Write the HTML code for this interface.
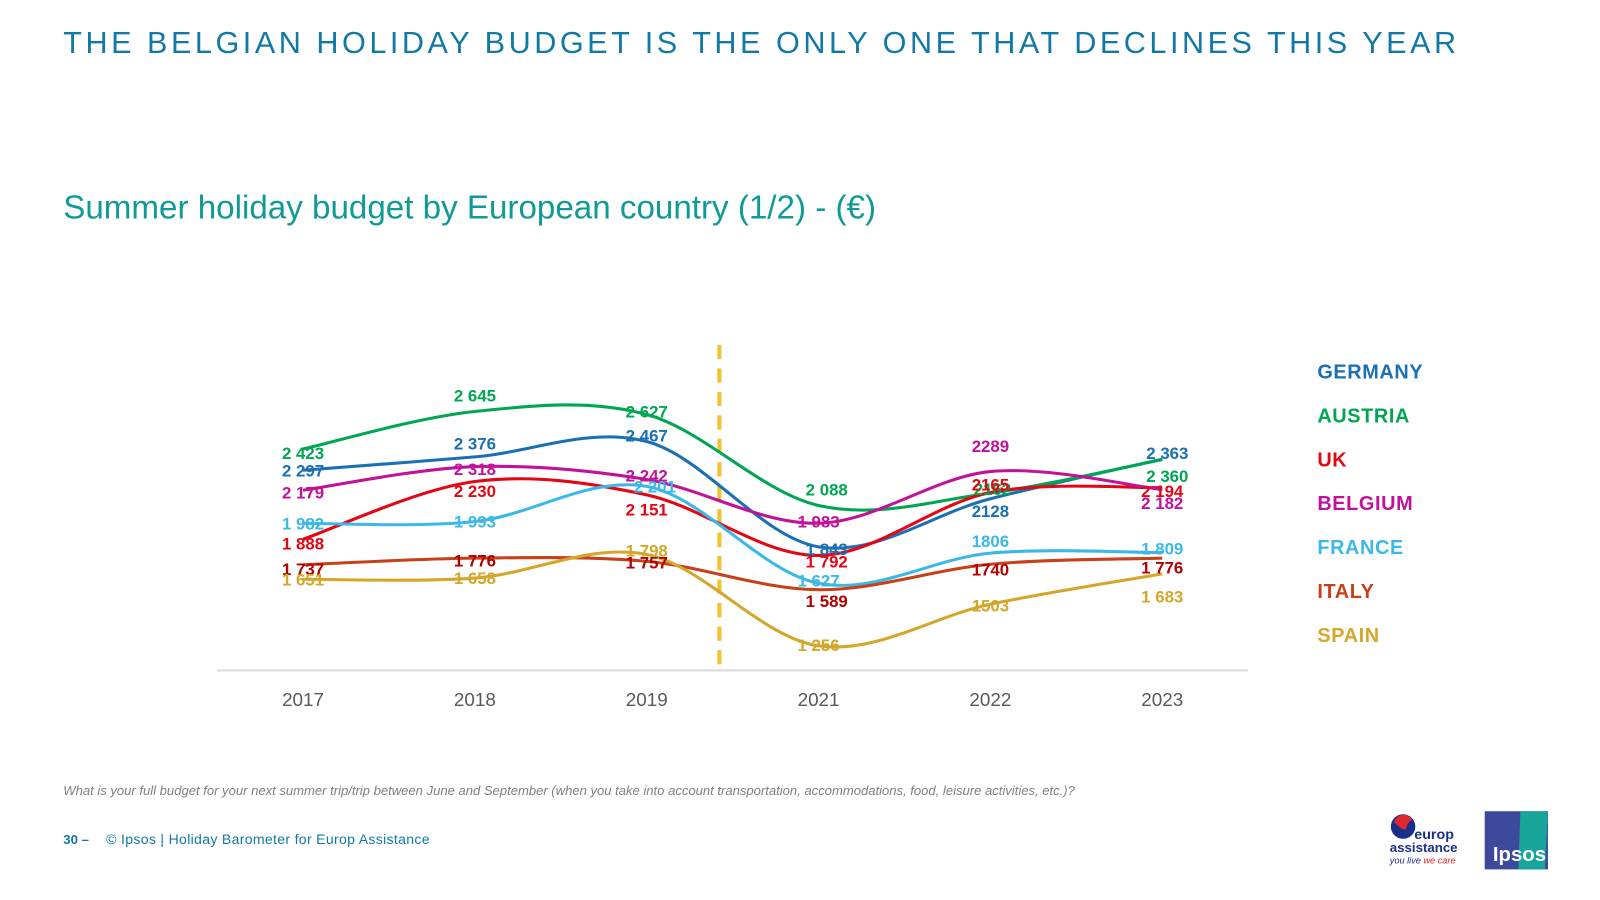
<!DOCTYPE html>
<html><head><meta charset="utf-8"><style>
html,body{margin:0;padding:0;background:#fff;width:1600px;height:900px;overflow:hidden}
svg{display:block;font-family:"Liberation Sans",sans-serif}
</style></head><body>
<svg id="chart" width="1600" height="900" viewBox="0 0 1568 882" xmlns="http://www.w3.org/2000/svg">
<text x="62" y="52" font-size="30" fill="#1279a6" letter-spacing="3.45">THE BELGIAN HOLIDAY BUDGET IS THE ONLY ONE THAT DECLINES THIS YEAR</text>
<text x="62" y="214" font-size="32.5" fill="#0f9a95">Summer holiday budget by European country (1/2) - (€)</text>
<line x1="213" y1="657" x2="1223" y2="657" stroke="#d9d9d9" stroke-width="2"/>
<line x1="705" y1="338" x2="705" y2="660" stroke="#f2c12e" stroke-width="4" stroke-dasharray="14,9"/>
<g id="lines"></g><g id="labels"></g><g id="xticks"></g><g id="legend"></g>
<text x="62" y="779" font-size="12.8" font-style="italic" fill="#7f7f7f">What is your full budget for your next summer trip/trip between June and September (when you take into account transportation, accommodations, food, leisure activities, etc.)?</text>
<text x="62" y="827" font-size="13" font-weight="bold" fill="#1279a6">30 –</text>
<text x="104" y="827" font-size="13.8" fill="#1279a6" letter-spacing="0.3">© Ipsos | Holiday Barometer for Europ Assistance</text>
<g>
<circle cx="1375" cy="810" r="12" fill="#1a2f8a"/><path d="M1366 805 q8-12 18 -2 q-6 4-6 10 q-6 0-12-8z" fill="#e3262d"/>
<text x="1386" y="822" font-size="14" font-weight="bold" fill="#1a2f8a">europ</text>
<text x="1362" y="835" font-size="13" font-weight="bold" fill="#1a2f8a">assistance</text>
<text x="1362" y="846" font-size="9" font-style="italic" fill="#1a2f8a">you live <tspan fill="#e3262d">we care</tspan></text>
</g>
<g>
<rect x="1455" y="795" width="62" height="57" fill="#3d4a9c"/><path d="M1490 795 h27 l-3 57 h-26z" fill="#17a59a"/>
<text x="1463" y="844" font-size="20" font-weight="bold" fill="#fff">Ipsos</text>
</g>
</svg>
<script>
const years = ["2017","2018","2019","2021","2022","2023"];
const countries = ["GERMANY","AUSTRIA","UK","BELGIUM","FRANCE","ITALY","SPAIN"];
const germany = [2297,2376,2467,1843,2128,2363];
const austria = [2423,2645,2627,2088,2162,2360];
const uk = [1888,2230,2151,1792,2165,2194];
const belgium = [2179,2318,2242,1983,2289,2182];
const france = [1982,1993,2201,1627,1806,1809];
const italy = [1737,1776,1757,1589,1740,1776];
const spain = [1651,1658,1798,1256,1503,1683];
const labelText = [
 ["2 297","2 376","2 467","1 843","2128","2 363"],
 ["2 423","2 645","2 627","2 088","2162","2 360"],
 ["1 888","2 230","2 151","1 792","2165","2 194"],
 ["2 179","2 318","2 242","1 983","2289","2 182"],
 ["1 982","1 993","2 201","1 627","1806","1 809"],
 ["1 737","1 776","1 757","1 589","1740","1 776"],
 ["1 651","1 658","1 798","1 256","1503","1 683"]];
const series = [germany,austria,uk,belgium,france,italy,spain];
// styling
const lineColors = ["#1a6fb5","#00a651","#e30613","#c0139a","#3bb8e8","#c8401a","#d4a62a"];
const labelColors = ["#1a6fb5","#00a651","#e30613","#c0139a","#3bb8e8","#b00000","#d4a62a"];
const labelDy = [
 [0,-13,-6,2,12,-6],[4,-16,-3,-16,-4,16],[4,9,14,6,-8,3],[2,2,-4,-2,-25,13],[0,0,0,-3,-12,-4],[4,2,1,11,5,9],[0,0,-4,-1,1,22]];
const labelDx = [
 [0,0,0,8,0,5],[0,0,0,8,2,5],[0,0,0,8,0,0],[0,0,0,0,0,0],[0,0,8,0,0,0],[0,0,0,8,0,0],[0,0,0,0,0,0]];
const xs = i => 297 + i*168.4;
const ys = v => 633 - (v-1256)*0.1654;
const NS="http://www.w3.org/2000/svg";
const linesG=document.getElementById('lines'),labelsG=document.getElementById('labels');
function curve(pts){
 let d=`M${pts[0][0]},${pts[0][1]}`;
 for(let i=0;i<pts.length-1;i++){
  const p0=pts[i-1]||pts[i],p1=pts[i],p2=pts[i+1],p3=pts[i+2]||p2;
  const c1=[p1[0]+(p2[0]-p0[0])/6,p1[1]+(p2[1]-p0[1])/6];
  const c2=[p2[0]-(p3[0]-p1[0])/6,p2[1]-(p3[1]-p1[1])/6];
  d+=` C${c1[0]},${c1[1]} ${c2[0]},${c2[1]} ${p2[0]},${p2[1]}`;
 }
 return d;
}
series.forEach((s,k)=>{
 const p=document.createElementNS(NS,'path');
 
 
 p.setAttribute('d',curve(s.map((v,i)=>[xs(i),ys(v)])));
 p.setAttribute('fill','none');p.setAttribute('stroke',lineColors[k]);p.setAttribute('stroke-width','3');
 linesG.appendChild(p);
});
series.forEach((s,k)=>{
 s.forEach((v,i)=>{
  const t=document.createElementNS(NS,'text');
  
  
  t.setAttribute('x',xs(i)+labelDx[k][i]);t.setAttribute('y',ys(v)+6+labelDy[k][i]);
  t.setAttribute('text-anchor','middle');t.setAttribute('font-size','16.5');t.setAttribute('font-weight','bold');
  t.setAttribute('fill',labelColors[k]);t.textContent=labelText[k][i];
  labelsG.appendChild(t);
 });
});
const xt=document.getElementById('xticks');
years.forEach((y,i)=>{
 const t=document.createElementNS(NS,'text');
 
 
 t.setAttribute('x',xs(i));t.setAttribute('y',692);t.setAttribute('text-anchor','middle');
 t.setAttribute('font-size','18.5');t.setAttribute('fill','#595959');t.textContent=y;xt.appendChild(t);
});
const lg=document.getElementById('legend');
countries.forEach((c,k)=>{
 const t=document.createElementNS(NS,'text');
 
 
 t.setAttribute('x',1291);t.setAttribute('y',371+k*43);t.setAttribute('font-size','19.5');t.setAttribute('font-weight','bold');
 t.setAttribute('letter-spacing','0.6');t.setAttribute('fill',labelColors[k]==="#b00000"?"#c8401a":labelColors[k]);t.textContent=c;lg.appendChild(t);
});
</script>
</body></html>
